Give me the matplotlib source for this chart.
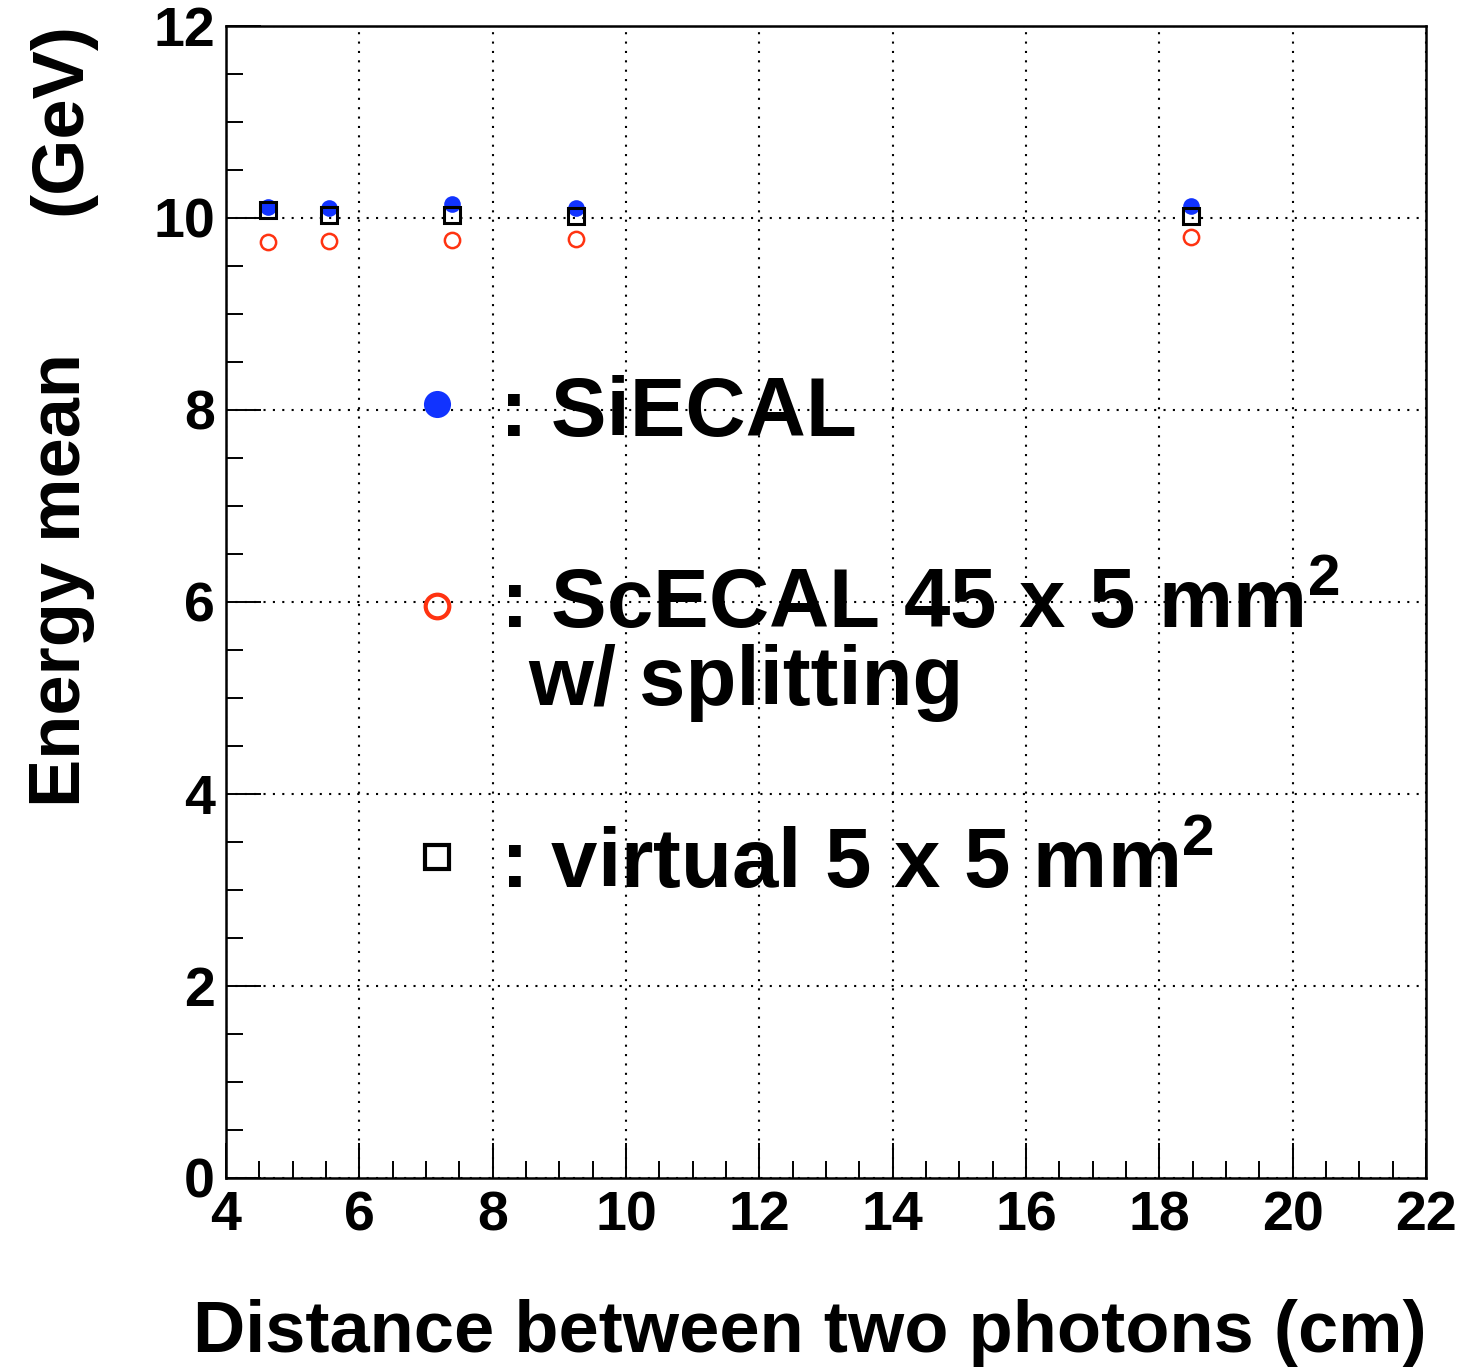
import matplotlib
matplotlib.use("Agg")
import matplotlib.pyplot as plt
from matplotlib.ticker import MultipleLocator

# ---- data ----
distance = [4.63, 5.55, 7.39, 9.25, 18.48]
siecal = [10.115, 10.104, 10.146, 10.104, 10.128]
scecal_split = [9.746, 9.756, 9.767, 9.784, 9.802]
virtual_5x5 = [10.087, 10.034, 10.034, 10.024, 10.017]

x_ticks = [4, 6, 8, 10, 12, 14, 16, 18, 20, 22]
y_ticks = [0, 2, 4, 6, 8, 10, 12]

blue = "#1133ff"
red = "#ff3311"
FONT = ["Liberation Sans", "DejaVu Sans"]
plt.rcParams["font.family"] = FONT
plt.rcParams["mathtext.fontset"] = "custom"
plt.rcParams["mathtext.rm"] = "Liberation Sans:bold"
plt.rcParams["mathtext.bf"] = "Liberation Sans:bold"

W, H = 1463, 1369
fig = plt.figure(figsize=(W / 100, H / 100), dpi=100)
ax = fig.add_axes([226 / W, 1 - 1178 / H, 1200 / W, 1152 / H])

ax.set_xlim(4, 22)
ax.set_ylim(0, 12)
ax.set_xticks(x_ticks)
ax.set_yticks(y_ticks)
ax.xaxis.set_minor_locator(MultipleLocator(0.5))
ax.yaxis.set_minor_locator(MultipleLocator(0.5))
ax.tick_params(which="both", direction="in", width=1.4, top=False, right=False)
ax.tick_params(which="major", length=25, labelsize=40)
ax.tick_params(which="minor", length=12.5)
ax.tick_params(axis="x", which="major", pad=9)
ax.tick_params(axis="y", which="major", pad=8)
for lab in ax.get_xticklabels() + ax.get_yticklabels():
    lab.set_fontweight("bold")
for sp in ax.spines.values():
    sp.set_linewidth(1.8)

ax.grid(True, which="major", color="black", linewidth=1.5, linestyle=(0, (1, 3.5)))
ax.set_axisbelow(True)

# data
ax.plot(distance, siecal, linestyle="none", marker="o", markersize=12,
        color=blue, markeredgewidth=0, zorder=3)
ax.plot(distance, virtual_5x5, linestyle="none", marker="s", markersize=11,
        markerfacecolor="none", markeredgecolor="black", markeredgewidth=2.2, zorder=4)
ax.plot(distance, scecal_split, linestyle="none", marker="o", markersize=11,
        markerfacecolor="none", markeredgecolor=red, markeredgewidth=1.8, zorder=4)

# legend (ROOT-style, drawn inside the frame)
tr = ax.transAxes
ax.plot([0.1758], [0.6719], transform=tr, marker="o", markersize=19.5,
        color=blue, markeredgewidth=0, linestyle="none", clip_on=False)
ax.plot([0.1758], [0.4965], transform=tr, marker="o", markersize=17,
        markerfacecolor="none", markeredgecolor=red, markeredgewidth=3,
        linestyle="none", clip_on=False)
ax.plot([0.1758], [0.2786], transform=tr, marker="s", markersize=17,
        markerfacecolor="none", markeredgecolor="black", markeredgewidth=3,
        linestyle="none", clip_on=False)
leg_kw = dict(transform=tr, fontsize=60, fontweight="bold", ha="left", va="baseline")
ax.text((500 - 226) / 1200, (1178 - 436) / 1152, ": SiECAL", **leg_kw)
ax.text((500 - 226) / 1200, (1178 - 628) / 1152, r": ScECAL 45 x 5 mm$^{2}$", **leg_kw)
ax.text((528 - 226) / 1200, (1178 - 705) / 1152, "w/ splitting", **leg_kw)
ax.text((500 - 226) / 1200, (1178 - 888) / 1152, r": virtual 5 x 5 mm$^{2}$", **leg_kw)

# axis titles
fig.text(193 / W, 1 - 1352 / H, "Distance between two photons (cm)",
         fontsize=52, fontweight="bold", ha="left", va="baseline")
fig.text(80 / W, 1 - 807 / H, "Energy mean", fontsize=52, fontweight="bold",
         rotation=90, rotation_mode="anchor", ha="left", va="baseline")
fig.text(80 / W, 1 - 215 / H, "(GeV)", fontsize=52, fontweight="bold",
         rotation=90, rotation_mode="anchor", ha="left", va="baseline")

fig.savefig("out.png", dpi=100)
